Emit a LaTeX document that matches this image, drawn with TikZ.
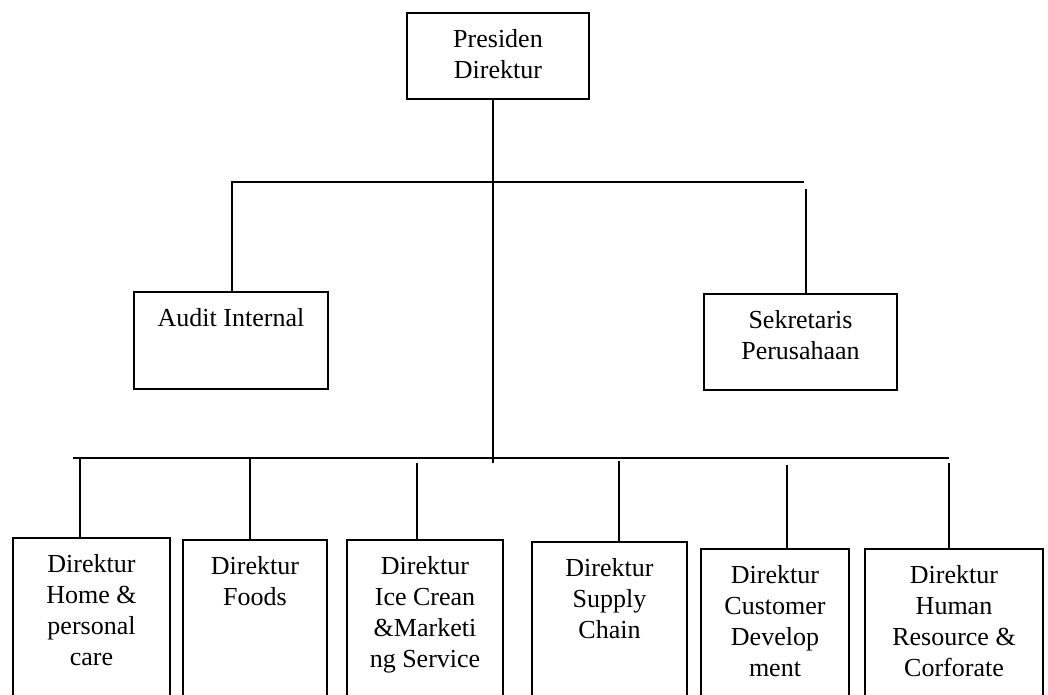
\documentclass[tikz,border=0pt]{standalone}
\usepackage{fontspec}
\setmainfont{Liberation Serif}
\usetikzlibrary{positioning}
\tikzset{%
box/.style={draw, line width=1.8pt, inner sep=0pt, anchor=north},
lbl/.style={anchor=north, align=center, inner sep=17pt},
ln/.style={line width=1.8pt}
}

\begin{document}
\begin{tikzpicture}[x=1pt, y=-1pt, font=\fontsize{26}{31}\selectfont]
	\useasboundingbox (0,0) rectangle (1048,695);
	\clip (0,0) rectangle (1048,695);
		% top
		\node[box, minimum width=182, minimum height=86] (pd) at (498,12) {};
		\node[lbl] (pdt) at (pd.north) {Presiden\\Direktur};
		% staff
		\node[box, minimum width=194, minimum height=97] (ai) at (231,291) {};
		\node[lbl] (ait) at (ai.north) {Audit Internal};
		\node[box, minimum width=193, minimum height=96] (sk) at (800.5,293) {};
		\node[lbl] (skt) at (sk.north) {Sekretaris\\Perusahaan};
		% direktur
		\node[box, minimum width=157, minimum height=180] (b1) at (91.5,537) {};
		\node[lbl] (b1t) at (b1.north) {Direktur\\Home \&\\personal\\care};
		\node[box, minimum width=144, minimum height=180] (b2) at (255,539) {};
		\node[lbl] (b2t) at (b2.north) {Direktur\\Foods};
		\node[box, minimum width=156, minimum height=180] (b3) at (425,539) {};
		\node[lbl] (b3t) at (b3.north) {Direktur\\Ice Crean\\\&Marketi\\ng Service};
		\node[box, minimum width=155, minimum height=180] (b4) at (609.5,541) {};
		\node[lbl] (b4t) at (b4.north) {Direktur\\Supply\\Chain};
		\node[box, minimum width=148, minimum height=180] (b5) at (775,548) {};
		\node[lbl] (b5t) at (b5.north) {Direktur\\Customer\\Develop\\ment};
		\node[box, minimum width=178, minimum height=180] (b6) at (954,548) {};
		\node[lbl] (b6t) at (b6.north) {Direktur\\Human\\Resource \&\\Corforate};

		\coordinate (spine) at (493,463);
		\coordinate (ul) at (232,182);
		\coordinate (ur) at (804,182);
		\coordinate (skl) at (806,189);
		\coordinate (bl) at (73,458);
		\coordinate (br) at (949,458);
		\coordinate (d1) at (80,458);
		\coordinate (d2) at (250,458);
		\coordinate (d3) at (417,463);
		\coordinate (d4) at (619,461);
		\coordinate (d5) at (787,465);
		\coordinate (d6) at (949,463);

		\draw[ln] (pd.south -| spine) -- (spine);
		\draw[ln] (ai.north -| ul) -- (ul) -- (ur);
		\draw[ln] (sk.north -| skl) -- (skl);
		\draw[ln] (bl) -- (br);
		\draw[ln] (b1.north -| d1) -- (d1);
		\draw[ln] (b2.north -| d2) -- (d2);
		\draw[ln] (b3.north -| d3) -- (d3);
		\draw[ln] (b4.north -| d4) -- (d4);
		\draw[ln] (b5.north -| d5) -- (d5);
		\draw[ln] (b6.north -| d6) -- (d6);
	\end{tikzpicture}
\end{document}
